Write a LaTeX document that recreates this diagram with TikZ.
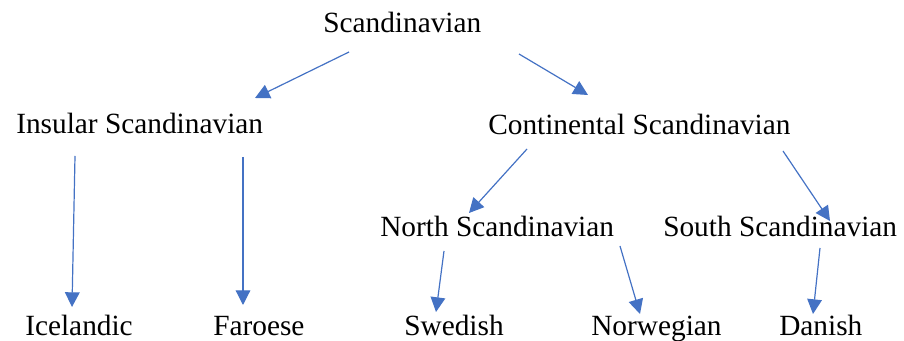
\documentclass[tikz,border=0pt]{standalone}
\usepackage{fontspec}
\setmainfont{Liberation Serif}
\usepackage{tikz}
\usetikzlibrary{arrows.meta,calc}
\definecolor{officeblue}{RGB}{68,114,196}
\tikzstyle{lang} = [inner sep=0pt, anchor=base west, font=\fontsize{22pt}{26pt}\selectfont]
\tikzstyle{branch} = [officeblue, line width=0.9pt, -{Triangle[length=11pt,width=11pt]}]

\begin{document}
\begin{tikzpicture}[x=0.75pt,y=-0.75pt]
\useasboundingbox (0,0) rectangle (904,341);
\node (scand) [lang] at (323,33) {Scandinavian};
\node (insular) [lang] at (16,134) {Insular Scandinavian};
\node (contin) [lang] at (488,135) {Continental Scandinavian};
\node (north) [lang] at (380,237) {North Scandinavian};
\node (south) [lang] at (663,237) {South Scandinavian};
\node (iceland) [lang] at (25,336) {Icelandic};
\node (faroe) [lang] at (213,336) {Faroese};
\node (swed) [lang] at (404,336) {Swedish};
\node (norw) [lang] at (591,336) {Norwegian};
\node (dan) [lang] at (779,336) {Danish};
% top level
\draw[branch] ($(scand.base west)+(26,19)$) -- ($(insular.base west)+(239,-36)$);
\draw[branch] ($(scand.base west)+(196,21)$) -- ($(contin.base west)+(100,-40)$);
% insular branch
\draw[branch] ($(insular.base west)+(59,22)$) -- ($(iceland.base west)+(47,-29)$);
\draw[branch] ($(insular.base west)+(227,23)$) -- ($(faroe.base west)+(30,-31)$);
% continental branch
\draw[branch] ($(contin.base west)+(39,14)$) -- ($(north.base west)+(89,-24)$);
\draw[branch] ($(contin.base west)+(295,16)$) -- ($(south.base west)+(167,-16)$);
\draw[branch] ($(north.base west)+(64,14)$) -- ($(swed.base west)+(32,-24)$);
\draw[branch] ($(north.base west)+(240,9)$) -- ($(norw.base west)+(49,-22)$);
\draw[branch] ($(south.base west)+(157,11)$) -- ($(dan.base west)+(34,-22)$);
\end{tikzpicture}
\end{document}
